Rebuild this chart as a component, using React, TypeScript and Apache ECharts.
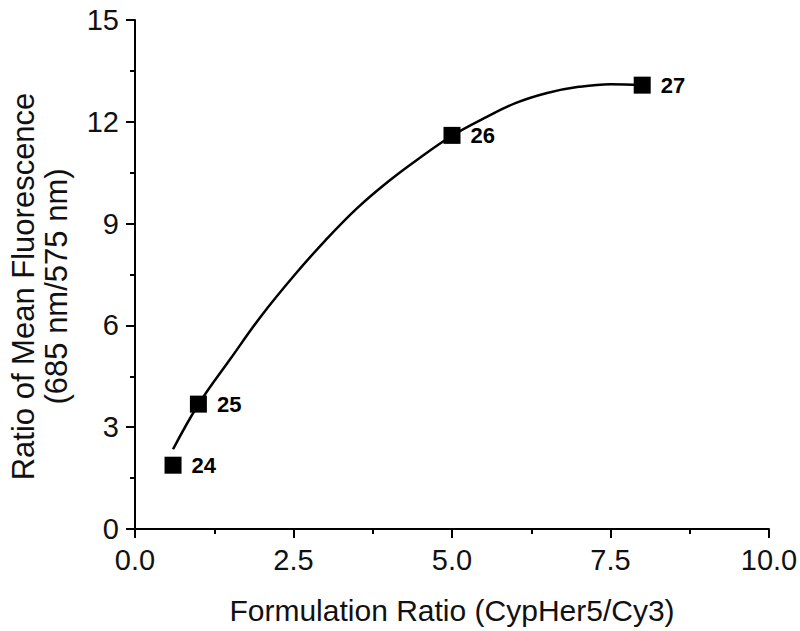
import React, { useEffect, useRef } from "react";
import * as echarts from "echarts";

const pointX = [0.6, 1.0, 5.0, 8.0];
const pointY = [1.88, 3.68, 11.6, 13.08];
const pointLabels = ["24", "25", "26", "27"];

const curveX = [0.6, 1.0, 1.5, 2.0, 2.5, 3.0, 3.5, 4.0, 4.5, 5.0, 5.5, 6.0, 6.5, 7.0, 7.5, 8.0];
const curveY = [2.35, 3.67, 5.0, 6.3, 7.45, 8.5, 9.45, 10.25, 10.95, 11.59, 12.1, 12.55, 12.85, 13.03, 13.11, 13.08];

const FONT = "Liberation Sans, Arial, sans-serif";

export default function App() {
  const ref = useRef<HTMLDivElement>(null);
  useEffect(() => {
    if (!ref.current) return;
    const chart = echarts.init(ref.current, null, { renderer: "svg" });
    chart.setOption({
      animation: false,
      backgroundColor: "#ffffff",
      grid: { left: 135, right: 31, top: 20, bottom: 102, containLabel: false, outerBoundsMode: "none" },
      xAxis: {
        type: "value",
        min: 0,
        max: 10,
        interval: 2.5,
        name: "Formulation Ratio (CypHer5/Cy3)",
        nameLocation: "middle",
        nameGap: 66,
        nameTextStyle: { fontFamily: FONT, fontSize: 30, color: "#111" },
        axisLine: { show: true, lineStyle: { color: "#000", width: 2 } },
        axisTick: { show: true, inside: false, length: 9, lineStyle: { color: "#000", width: 2 } },
        minorTick: { show: true, splitNumber: 2, length: 5, lineStyle: { color: "#000", width: 2 } },
        splitLine: { show: false },
        axisLabel: {
          fontFamily: FONT,
          fontSize: 29,
          color: "#111",
          margin: 16,
          formatter: (v: number) => v.toFixed(1),
        },
      },
      yAxis: {
        type: "value",
        min: 0,
        max: 15,
        interval: 3,
        name: "Ratio of Mean Fluorescence\n(685 nm/575 nm)",
        nameLocation: "middle",
        nameRotate: 90,
        nameGap: 62,
        nameTextStyle: { fontFamily: FONT, fontSize: 31, color: "#111", lineHeight: 33, padding: [0, 24, 0, 0] },
        axisLine: { show: true, lineStyle: { color: "#000", width: 2 } },
        axisTick: { show: true, inside: false, length: 9, lineStyle: { color: "#000", width: 2 } },
        minorTick: { show: true, splitNumber: 2, length: 5, lineStyle: { color: "#000", width: 2 } },
        splitLine: { show: false },
        axisLabel: { fontFamily: FONT, fontSize: 29, color: "#111", margin: 16 },
      },
      series: [
        {
          type: "line",
          data: curveX.map((x, i) => [x, curveY[i]]),
          smooth: 0.4,
          showSymbol: false,
          symbol: "none",
          lineStyle: { color: "#000", width: 2.5 },
          z: 2,
        },
        {
          type: "scatter",
          data: pointX.map((x, i) => [x, pointY[i]]),
          symbol: "rect",
          symbolSize: 17,
          itemStyle: { color: "#000", opacity: 1 },
          label: {
            show: true,
            position: "right",
            distance: 10,
            formatter: (p: any) => pointLabels[p.dataIndex],
            fontFamily: FONT,
            fontWeight: "bold",
            fontSize: 22,
            color: "#000",
          },
          z: 3,
        },
      ],
    });
    return () => chart.dispose();
  }, []);
  return (
    <div
      ref={ref}
      style={{ position: "fixed", left: 0, top: 0, width: 800, height: 631 }}
    />
  );
}
